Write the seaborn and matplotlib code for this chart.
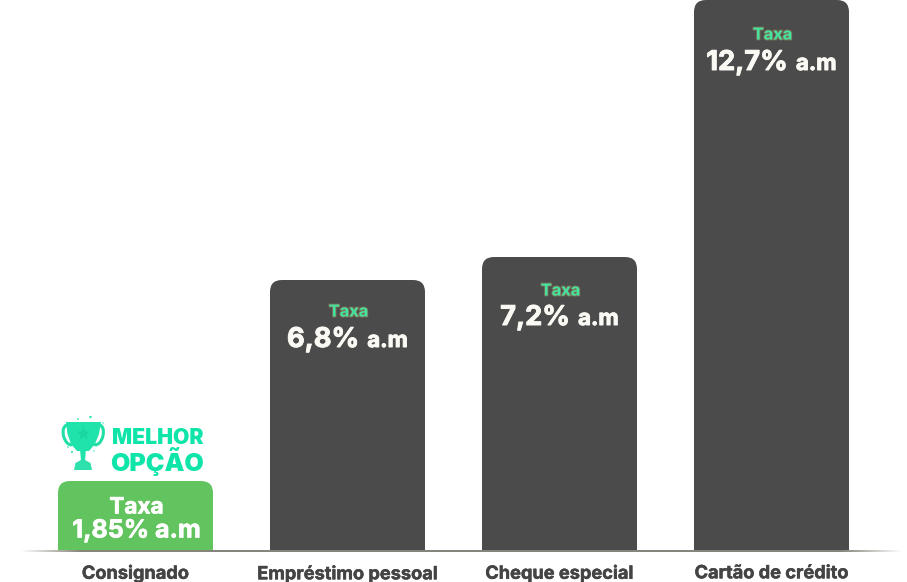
import matplotlib
matplotlib.use('Agg')
import matplotlib.pyplot as plt
import matplotlib.patheffects as pe
from matplotlib.patches import FancyBboxPatch, Polygon, Circle, Ellipse
import seaborn as sns
import pandas as pd
import numpy as np

categorias = ['Consignado', 'Empréstimo pessoal', 'Cheque especial', 'Cartão de crédito']
alturas = [69, 270, 293, 550]
taxas = ['1,85%', '6,8%', '7,2%', '12,7%']
cores = ['#62C45E', '#4B4B4B', '#4B4B4B', '#4B4B4B']

VERDE = '#0FE5A9'
FONTE = 'Inter'

sns.set_theme(style='white')
plt.rcParams['font.family'] = [FONTE, 'DejaVu Sans']

W, H = 907, 582
BASE = 550
fig = plt.figure(figsize=(W / 100, H / 100), dpi=100)
ax = fig.add_axes([0, (H - BASE) / H, 1, BASE / H])

df = pd.DataFrame({'categoria': categorias, 'altura': alturas})
sns.barplot(data=df, x='categoria', y='altura', hue='categoria', palette=cores,
            width=155 / 212, legend=False, ax=ax, saturation=1)

ax.set_xlim(-135.5 / 212, (W - 135.5) / 212)
ax.set_ylim(0, BASE)
ax.set_xlabel('')
ax.set_ylabel('')
ax.set_yticks([])
ax.patch.set_alpha(0)
sns.despine(ax=ax, left=True, bottom=True, top=True, right=True)
ax.tick_params(axis='x', length=0, pad=11)
for t in ax.get_xticklabels():
    t.set_fontsize(13.1)
    t.set_fontweight('bold')
    t.set_color('#444444')
    t.set_path_effects([pe.withStroke(linewidth=0.35, foreground='#444444')])

# barras com cantos superiores arredondados
for bar, cor in zip(ax.patches, cores):
    x0, w, h = bar.get_x(), bar.get_width(), bar.get_height()
    bar.set_visible(False)
    ax.add_patch(FancyBboxPatch((x0, -30), w, h + 30,
                                boxstyle=f'round,pad=0,rounding_size={12 / 212}',
                                mutation_aspect=212, fc=cor, ec='none', clip_on=True))

# linha de base em degrade
linha = fig.add_axes([0, (H - 552) / H, 1, 2.4 / H])
linha.axis('off')
xs = np.linspace(0, W, W)
alpha = np.clip(np.minimum((xs - 20) / 60, (W - 5 - xs) / 60), 0, 1)
rgba = np.zeros((1, W, 4))
rgba[..., :3] = matplotlib.colors.to_rgb('#85857C')
rgba[..., 3] = alpha
linha.imshow(rgba, aspect='auto')

renderer = fig.canvas.get_renderer()
engorda = [pe.withStroke(linewidth=0.7, foreground='#FBF9F4')]


def texto_taxa(i, topo, y_taxa, y_valor, valor):
    # "Taxa" em verde e o valor em duas partes na mesma linha de base
    ax.text(i + 0.005, topo - y_taxa, 'Taxa', ha='center', va='center', fontsize=11.8,
            fontweight='bold', color='#42E6A0',
            path_effects=[pe.withStroke(linewidth=1.3, foreground='#7E7258')])
    a = ax.text(i, topo - y_valor, valor, ha='left', va='baseline', fontsize=19.6,
                fontweight='bold', color='#FBF9F4', path_effects=engorda)
    b = ax.text(i, topo - y_valor, 'a.m', ha='left', va='baseline', fontsize=16,
                fontweight='bold', color='#FBF9F4', path_effects=engorda)
    wa = a.get_window_extent(renderer).width / 212
    wb = b.get_window_extent(renderer).width / 212
    gap = 8 / 212
    ini = i - (wa + wb + gap) / 2
    a.set_x(ini)
    b.set_x(ini + wa + gap)


for i, (topo, taxa) in enumerate(zip(alturas, taxas)):
    if i == 0:
        ax.text(i + 0.005, topo - 26.5, 'Taxa', ha='center', va='center', fontsize=16.2,
                fontweight='bold', color='white',
                path_effects=[pe.withStroke(linewidth=0.5, foreground='white')])
        ax.text(i + 0.005, topo - 50, f'{taxa} a.m', ha='center', va='center', fontsize=18,
                fontweight='bold', color='white',
                path_effects=[pe.withStroke(linewidth=0.5, foreground='white')])
    else:
        texto_taxa(i, topo, {1: 32, 2: 34, 3: 35}[i], {1: 67, 2: 68, 3: 70}[i], taxa)

# selo "melhor opcao"
ax.text(-135.5 / 212 + 112 / 212, BASE - 438.5, 'MELHOR', ha='left', va='center',
        fontsize=15.2, fontweight='black', color=VERDE)
ax.text(-135.5 / 212 + 110 / 212, BASE - 461, 'OPÇÃO', ha='left', va='center',
        fontsize=18, fontweight='black', color=VERDE)

# trofeu, em coordenadas de pixel da propria caixinha
ic = fig.add_axes([58 / W, (H - 474) / H, 50 / W, 60 / H])
ic.set_xlim(58, 108)
ic.set_ylim(474, 414)
ic.axis('off')
ic.add_patch(Ellipse((69, 435), 11, 20, angle=-15, fc='none', ec='#22DFA8', lw=2.2))
ic.add_patch(Ellipse((97.5, 435), 11, 20, angle=15, fc='none', ec='#22DFA8', lw=2.2))
ic.add_patch(Polygon([(66, 422), (101, 422), (99, 434), (95, 444), (89, 451), (77, 451), (71, 444), (67.5, 434)],
                     fc='#1FE3AB', ec='none', closed=True))
ic.add_patch(Polygon([(80, 449), (86, 449), (85, 461), (81, 461)], fc='#1FE3AB', ec='none'))
ic.add_patch(Polygon([(74, 470), (75.5, 463), (81, 460), (85, 460), (90.5, 463), (92, 470)],
                     fc='#2EE0AC', ec='none'))
ic.plot([83], [433], marker='*', ms=10, color='#1AD6A0', mec='none')
for cx, cy, r in [(78, 419, .9), (90.5, 417, 1.2), (103, 423, .7), (68, 447, .8), (94, 451, .7), (72, 452, 1)]:
    ic.add_patch(Circle((cx, cy), r, fc='#1FE3AB', ec='none'))

fig.savefig('out.png', dpi=100)
plt.close(fig)
